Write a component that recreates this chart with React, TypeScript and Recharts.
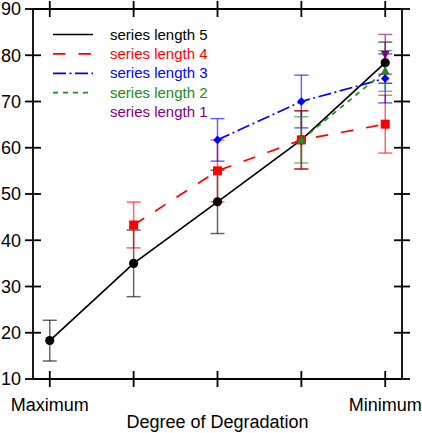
import React from 'react';
import { ComposedChart, Line, XAxis, YAxis, ErrorBar, Legend } from 'recharts';

// ---- data ----
const categories = ['Maximum', '', '', '', 'Minimum'];
const yTicks = [10, 20, 30, 40, 50, 60, 70, 80, 90];
const xTicks = [0, 1, 2, 3, 4];

const s5x = [0, 1, 2, 3, 4];
const s5y = [18.3, 35.0, 48.3, 61.7, 78.4];
const s5e = [4.4, 7.2, 6.85, 6.3, 4.45];

const s4x = [1, 2, 3, 4];
const s4y = [43.3, 55.0, 61.7, 65.1];
const s4e = [4.95, 6.7, 6.3, 6.25];

const s3x = [2, 3, 4];
const s3y = [61.7, 70.0, 75.0];
const s3e = [4.6, 5.7, 5.3];

const s2x = [3, 4];
const s2y = [61.7, 76.6];
const s2e = [5.0, 4.4];

const s1x = [4];
const s1y = [80.2];
const s1e = [4.3];

const seriesNames = ['series length 5', 'series length 4', 'series length 3', 'series length 2', 'series length 1'];

const build = (xs: number[], ys: number[], es: number[]) => xs.map((x, i) => ({ x, y: ys[i], e: es[i] }));

const series = [
  { name: seriesNames[0], data: build(s5x, s5y, s5e), color: '#000000', dash: undefined, shape: 'circle', line: true },
  { name: seriesNames[1], data: build(s4x, s4y, s4e), color: '#ff0000', dash: '12.5 13', shape: 'square', line: true },
  { name: seriesNames[2], data: build(s3x, s3y, s3e), color: '#0000ff', dash: '13 3.5 2 3.5', shape: 'diamond', line: true },
  { name: seriesNames[3], data: build(s2x, s2y, s2e), color: '#228b22', dash: '5 5', shape: 'triUp', line: true },
  { name: seriesNames[4], data: build(s1x, s1y, s1e), color: '#800080', dash: undefined, shape: 'triDown', line: false },
];

const FONT = '"Liberation Sans", Arial, Helvetica, sans-serif';

const makeDot = (shape: string, color: string) => (props: any) => {
  const { cx, cy, index } = props;
  const key = `d-${shape}-${index}`;
  if (cx == null || cy == null || isNaN(cx) || isNaN(cy)) return <g key={key} />;
  switch (shape) {
    case 'circle':
      return <circle key={key} cx={cx} cy={cy} r={4.6} fill={color} stroke="none" />;
    case 'square':
      return <rect key={key} x={cx - 4.5} y={cy - 4.5} width={9} height={9} fill={color} stroke="none" />;
    case 'diamond':
      return <polygon key={key} points={`${cx},${cy - 4.3} ${cx + 4.3},${cy} ${cx},${cy + 4.3} ${cx - 4.3},${cy}`} fill={color} stroke="none" />;
    case 'triUp':
      return <polygon key={key} points={`${cx},${cy - 5} ${cx + 4.5},${cy + 3.5} ${cx - 4.5},${cy + 3.5}`} fill={color} stroke="none" />;
    case 'triDown':
      return <polygon key={key} points={`${cx},${cy + 5} ${cx + 4.5},${cy - 3.5} ${cx - 4.5},${cy - 3.5}`} fill={color} stroke="none" />;
    default:
      return <g key={key} />;
  }
};

const LegendBox = () => (
  <svg width={230} height={125} style={{ display: 'block', fontFamily: FONT }}>
    {series.map((s, i) => {
      const cy = 34 + i * 19.4;
      return (
        <g key={s.name}>
          {s.line && (
            <line x1={53} x2={93} y1={cy + 0.5} y2={cy + 0.5} stroke={s.color} strokeWidth={1.7} strokeDasharray={s.dash} />
          )}
          <text x={110} y={cy} fontSize={15} fill={s.color} dominantBaseline="central">
            {s.name}
          </text>
        </g>
      );
    })}
  </svg>
);

const blank = () => '';

export default function App() {
  const axisCommon = { stroke: '#000', strokeWidth: 1.8 };
  const xCommon = { dataKey: 'x', type: 'number' as const, domain: [-0.2, 4.2], ticks: xTicks, interval: 0, allowDataOverflow: true };
  const yCommon = { type: 'number' as const, domain: [10, 90], ticks: yTicks, interval: 0, allowDataOverflow: true };
  return (
    <div style={{ position: 'absolute', left: 0, top: 0, width: 422, height: 433, background: '#fff' }}>
      <ComposedChart width={422} height={433} margin={{ top: 0, right: 0, bottom: 0, left: 0 }} style={{ fontFamily: FONT }}>
        <XAxis
          xAxisId="b"
          {...xCommon}
          tickFormatter={(v: number) => categories[v] ?? ''}
          height={54}
          tickSize={8}
          tickMargin={11}
          {...axisCommon}
          tick={{ fill: '#000', fontSize: 18 }}
          label={{ value: 'Degree of Degradation', position: 'insideBottom', offset: 5, fill: '#000', fontSize: 18 }}
        />
        <XAxis xAxisId="bm" {...xCommon} orientation="bottom" mirror axisLine={false} tickFormatter={blank} tickSize={8} height={20} {...axisCommon} />
        <XAxis xAxisId="t" {...xCommon} orientation="top" tickFormatter={blank} tickSize={8} height={9} {...axisCommon} />
        <XAxis xAxisId="tm" {...xCommon} orientation="top" mirror axisLine={false} tickFormatter={blank} tickSize={8} height={20} {...axisCommon} />

        <YAxis
          yAxisId="l"
          {...yCommon}
          width={33}
          tickSize={8}
          tickMargin={4}
          {...axisCommon}
          tick={{ fill: '#000', fontSize: 18 }}
        />
        <YAxis yAxisId="lm" {...yCommon} orientation="left" mirror axisLine={false} tickFormatter={blank} tickSize={8} width={20} {...axisCommon} />
        <YAxis yAxisId="r" {...yCommon} orientation="right" tickFormatter={blank} tickSize={8} width={20} {...axisCommon} />
        <YAxis yAxisId="rm" {...yCommon} orientation="right" mirror axisLine={false} tickFormatter={blank} tickSize={8} width={20} {...axisCommon} />

        {series.map((s) => (
          <Line
            key={s.name}
            data={s.data}
            dataKey="y"
            name={s.name}
            xAxisId="b"
            yAxisId="l"
            type="linear"
            stroke={s.line ? s.color : 'none'}
            strokeWidth={1.7}
            strokeDasharray={s.dash}
            dot={makeDot(s.shape, s.color)}
            activeDot={false}
            isAnimationActive={false}
          >
            <ErrorBar dataKey="e" direction="y" width={7} stroke={s.color} strokeOpacity={0.6} strokeWidth={1.5} isAnimationActive={false} />
          </Line>
        ))}

        <Legend
          layout="horizontal"
          verticalAlign="middle"
          align="center"
          content={() => <LegendBox />}
          wrapperStyle={{ position: 'absolute', left: 0, top: 0, width: 230, height: 125 }}
        />
      </ComposedChart>
    </div>
  );
}
